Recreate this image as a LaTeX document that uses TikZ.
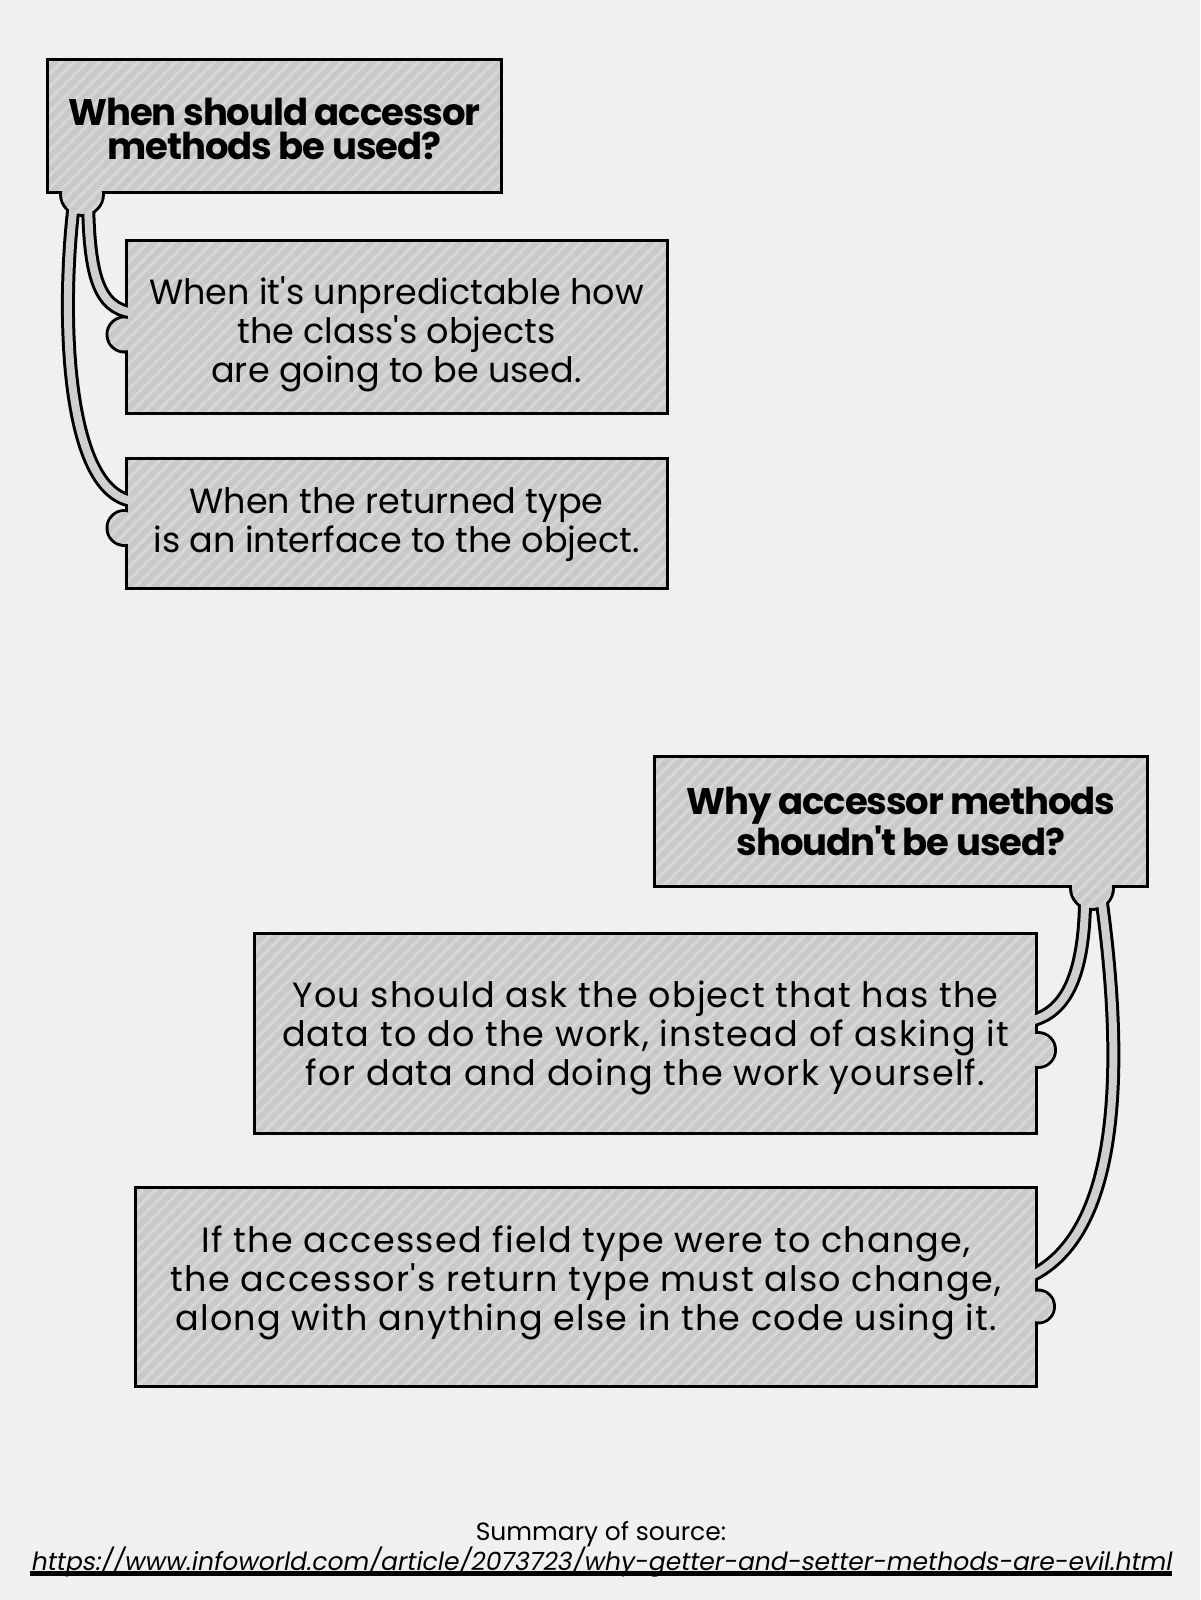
\documentclass[tikz,border=0pt]{standalone}
\usepackage{fontspec}
\setmainfont{Poppins}[Ligatures=TeXOff]
\newfontfamily\headfont{Poppins}[LetterSpace=-3]
\newfontfamily\wideface{Poppins}[LetterSpace=3.6]
\newfontfamily\linkfont{Poppins}[FakeSlant=0.18]
\usetikzlibrary{positioning, calc, patterns.meta}
\definecolor{PaperGray}{HTML}{F0F0F0}
\definecolor{BoxGray}{HTML}{C9C9C9}
\definecolor{StripeGray}{HTML}{D7D7D7}
\definecolor{BandGray}{HTML}{CFCFCF}
\pgfdeclarelayer{paper}
\pgfdeclarelayer{under}
\pgfdeclarelayer{over}
\pgfsetlayers{paper,under,main,over}
% struts to nudge text up or down inside a box
\newcommand{\lift}[1]{\rule{0pt}{#1}}
\newcommand{\sink}[1]{\rule[-#1]{0pt}{0pt}}

\begin{document}
\begin{tikzpicture}[
            x=1pt, y=-1pt,
            hatched/.style = {preaction={fill=BoxGray}, pattern={Lines[angle=45, distance=9pt, line width=3pt]}, pattern color=StripeGray},
            answer/.style = {rectangle, draw=black, line width=3pt, hatched, align=center, inner sep=0pt, font=\fontsize{35}{39}\selectfont},
            wideanswer/.style = {answer, font=\wideface\fontsize{35}{39}\selectfont},
            question/.style = {answer, font=\headfont\bfseries\fontsize{37}{34}\selectfont},
            bandline/.style = {line width=14pt, black},
            bandcore/.style = {line width=8pt, BandGray},
            caption/.style = {inner sep=0pt, font=\fontsize{25}{30}\selectfont}
        ]
            \begin{pgfonlayer}{paper}
            \fill [PaperGray] (0,0) rectangle (1200,1600);
            \end{pgfonlayer}
            \useasboundingbox (0,0) rectangle (1200,1600);

            \node [question, minimum width=454pt, minimum height=133pt] (q1) at (274.5,126) {\lift{34pt}When should accessor\\methods be used?};
            \node [answer, minimum width=541pt, minimum height=173pt] (use1) at (396.5,326.5) {\lift{43pt}When it's unpredictable how\\the class's objects\\are going to be used.};
            \node [answer, minimum width=541pt, minimum height=130pt, below=42pt of use1] (use2) {\lift{30pt}When the returned type\\is an interface to the object.};

            \node [question, minimum width=493pt, minimum height=130pt] (q2) at (901,821.5) {Why accessor methods\\shoudn't be used?};
            \node [wideanswer, minimum width=782pt, minimum height=200pt] (why1) at (645.5,1033) {\lift{37pt}You should ask the object that has the\\data to do the work, instead of asking it\\for data and doing the work yourself.};
            \node [wideanswer, minimum width=901pt, minimum height=199pt, below left=51pt and 0pt of why1.south east] (why2) {If the accessed field type were to change,\\the accessor's return type must also change,\\along with anything else in the code using it.\sink{16pt}};

            \node [caption] (src) at (601,1534) {Summary of source:};
            \node [caption, font=\linkfont\fontsize{25}{30}\selectfont, below=0pt of src] (link) {https://www.infoworld.com/article/2073723/why-getter-and-setter-methods-are-evil.html};
            \draw [line width=4.5pt] ($(link.base west)+(0,3)$) -- ($(link.base east)+(0,3)$);

            % outlines of the bands
            \begin{pgfonlayer}{under}
            \draw [bandline] ($(q1.south west)+(42,-6)$) .. controls +(0,85) and +(-35,-4) .. ($(use1.west)+(8,-14)$);
            \draw [bandline] ($(q1.south west)+(30,-6)$) .. controls +(-16,110) and +(-70,-10) .. ($(use2.west)+(8,-22)$);
            \draw [bandline] ($(q2.south east)+(-64,-6)$) .. controls +(2,95) and +(35,-8) .. ($(why1.east)+(-8,-12)$);
            \draw [bandline] ($(q2.south east)+(-50,-6)$) .. controls +(25,170) and +(95,-45) .. ($(why2.east)+(-8,-10)$);
            \fill [black] ($(q1.south west)+(36,0)$) circle (23);
            \fill [black] ($(use1.west)+(0,8)$) circle (19);
            \fill [black] ($(use2.west)+(0,5)$) circle (19);
            \fill [black] ($(q2.south east)+(-57,0)$) circle (23);
            \fill [black] ($(why1.east)+(0,17)$) circle (19);
            \fill [black] ($(why2.east)+(0,20)$) circle (18);
            \end{pgfonlayer}

            % insides of the bands
            \begin{pgfonlayer}{over}
            \draw [bandcore] ($(q1.south west)+(42,-6)$) .. controls +(0,85) and +(-35,-4) .. ($(use1.west)+(8,-14)$);
            \draw [bandcore] ($(q1.south west)+(30,-6)$) .. controls +(-16,110) and +(-70,-10) .. ($(use2.west)+(8,-22)$);
            \draw [bandcore] ($(q2.south east)+(-64,-6)$) .. controls +(2,95) and +(35,-8) .. ($(why1.east)+(-8,-12)$);
            \draw [bandcore] ($(q2.south east)+(-50,-6)$) .. controls +(25,170) and +(95,-45) .. ($(why2.east)+(-8,-10)$);
            \path [hatched] ($(q1.south west)+(36,0)$) circle (20);
            \path [hatched] ($(use1.west)+(0,8)$) circle (16);
            \path [hatched] ($(use2.west)+(0,5)$) circle (16);
            \path [hatched] ($(q2.south east)+(-57,0)$) circle (20);
            \path [hatched] ($(why1.east)+(0,17)$) circle (16);
            \path [hatched] ($(why2.east)+(0,20)$) circle (15);
            \end{pgfonlayer}
        \end{tikzpicture}
\end{document}
